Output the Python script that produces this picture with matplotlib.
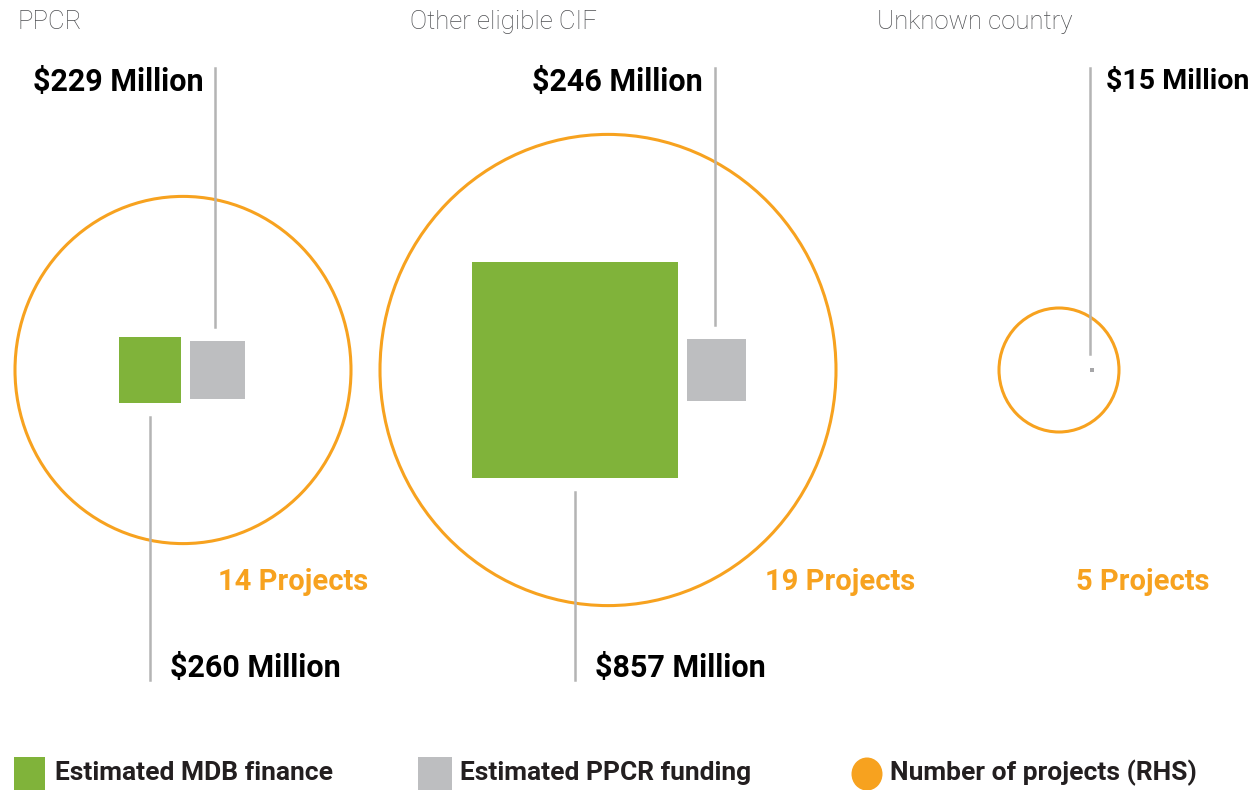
import matplotlib.pyplot as plt
from matplotlib.patches import Rectangle, Ellipse

groups = ['PPCR', 'Other eligible CIF', 'Unknown country']
mdb_finance = [260, 857, 0]      # $ million, green squares
ppcr_funding = [229, 246, 15]    # $ million, grey squares
projects = [14, 19, 5]           # number of projects, orange circles

GREEN = '#80b33a'
GREY = '#bdbec0'
ORANGE = '#f7a21f'
LINE = '#b4b4b4'

bold_font = ['Roboto', 'DejaVu Sans']
light_font = ['Roboto', 'DejaVu Sans']

fig = plt.figure(figsize=(12.59, 7.9), dpi=100)
ax = fig.add_axes([0, 0, 1, 1])
ax.set_xlim(0, 1259)
ax.set_ylim(790, 0)
ax.axis('off')

# layout (pixels)
circle_x = [183, 608, 1059]
pair_x = [185.5, 682.5, 1085.5]   # gap between green and grey squares
title_x = [18, 410, 877]
proj_x = [218, 765, 1076]
cy = 370
gap = 9
sx, sy = 0.24, 0.252       # px per $ million (square side)
rx, ry = 12.0, 12.4        # px per project (circle radius)

for i, g in enumerate(groups):
    ax.text(title_x[i], 22, g, fontsize=18.5, color='#4d4e51', family=light_font,
            fontweight='light', va='center', ha='left')

    # circle
    ax.add_patch(Ellipse((circle_x[i], cy), 2 * rx * projects[i], 2 * ry * projects[i],
                         fill=False, ec=ORANGE, lw=2.2))
    ax.text(proj_x[i], 582, f'{projects[i]} Projects', fontsize=21, color=ORANGE,
            family=bold_font, fontweight='bold', va='center', ha='left')

    # green square (MDB finance)
    if mdb_finance[i] > 0:
        w, h = sx * mdb_finance[i], sy * mdb_finance[i]
        left = pair_x[i] - gap / 2 - w
        ax.add_patch(Rectangle((left, cy - h / 2), w, h, fc=GREEN, ec='none'))
        lx = left + w / 2
        ax.plot([lx, lx], [cy + h / 2 + 14, 680], color=LINE, lw=1.8)
        ax.text(lx + 20, 668, f'${mdb_finance[i]} Million', fontsize=22, color='black',
                family=bold_font, fontweight='bold', va='center', ha='left')

    # grey square (PPCR funding)
    w, h = sx * ppcr_funding[i], sy * ppcr_funding[i]
    left = pair_x[i] + gap / 2
    ax.add_patch(Rectangle((left, cy - h / 2), w, h, fc=GREY if ppcr_funding[i] > 50 else '#a6a6a8',
                           ec='none'))
    lx = left + w / 2 - 2
    ax.plot([lx, lx], [68, cy - h / 2 - 14], color=LINE, lw=1.8)
    if i == 2:
        ax.text(lx + 16, 82, f'${ppcr_funding[i]} Million', fontsize=20.5, color='black',
                family=bold_font, fontweight='bold', va='center', ha='left')
    else:
        ax.text(lx - 12, 82, f'${ppcr_funding[i]} Million', fontsize=22, color='black',
                family=bold_font, fontweight='bold', va='center', ha='right')

# legend
ax.add_patch(Rectangle((14, 757), 31, 36, fc=GREEN, ec='none', clip_on=False))
ax.text(55, 773, 'Estimated MDB finance', fontsize=19, color='#231f20',
        family=bold_font, fontweight='bold', va='center', ha='left')
ax.add_patch(Rectangle((418, 757), 34, 36, fc=GREY, ec='none', clip_on=False))
ax.text(460, 773, 'Estimated PPCR funding', fontsize=19, color='#231f20',
        family=bold_font, fontweight='bold', va='center', ha='left')
ax.add_patch(Ellipse((867, 774), 31, 33, fc=ORANGE, ec='none'))
ax.text(890, 773, 'Number of projects (RHS)', fontsize=19, color='#231f20',
        family=bold_font, fontweight='bold', va='center', ha='left')

fig.savefig('out.png', dpi=100)
